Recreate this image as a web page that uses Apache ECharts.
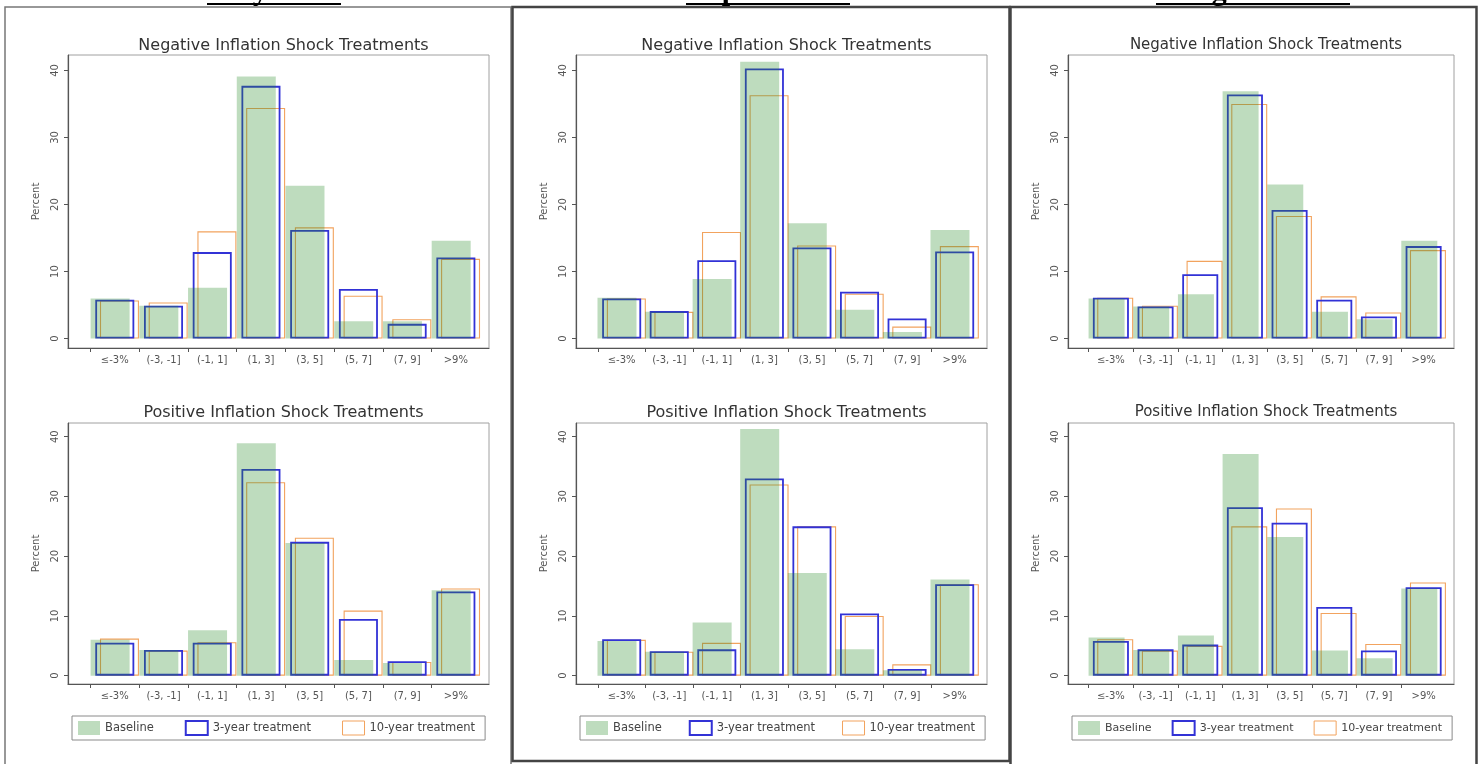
<!DOCTYPE html>
<html>
<head>
<meta charset="utf-8">
<title>Inflation expectations by treatment</title>
<script src="https://cdn.jsdelivr.net/npm/echarts@6/dist/echarts.min.js"></script>
<style>
html, body { margin: 0; padding: 0; background: #fff; }
#main { width: 1481px; height: 764px; }
</style>
</head>
<body>
<div id="main"></div>
<script>
// categories and labels
var categories = ['≤-3%', '(-3, -1]', '(-1, 1]', '(1, 3]', '(3, 5]', '(5, 7]', '(7, 9]', '>9%'];
var surveyTitles = ['July 2019', 'April 2021', 'August 2021'];
var chartTitles = ['Negative Inflation Shock Treatments', 'Positive Inflation Shock Treatments'];
var seriesNames = ['Baseline', '3-year treatment', '10-year treatment'];
var yTicks = [0, 10, 20, 30, 40];

// July 2019 (percent)
var jul19NegBaseline = [6.0, 4.9, 7.6, 39.1, 22.8, 2.6, 2.6, 14.6];
var jul19Neg3yr      = [5.8, 4.9, 12.9, 37.7, 16.2, 7.4, 2.2, 12.1];
var jul19Neg10yr     = [5.7, 5.4, 16.0, 34.4, 16.6, 6.4, 2.9, 11.9];
var jul19PosBaseline = [6.0, 4.3, 7.6, 38.9, 22.2, 2.6, 2.1, 14.3];
var jul19Pos3yr      = [5.5, 4.3, 5.5, 34.6, 22.4, 9.5, 2.4, 14.1];
var jul19Pos10yr     = [6.2, 4.2, 5.6, 32.4, 23.1, 10.9, 2.3, 14.6];

// April 2021
var apr21NegBaseline = [6.1, 4.0, 8.9, 41.3, 17.2, 4.3, 1.0, 16.2];
var apr21Neg3yr      = [6.0, 4.1, 11.7, 40.3, 13.6, 7.0, 3.0, 13.0];
var apr21Neg10yr     = [6.0, 4.0, 15.9, 36.3, 13.9, 6.7, 1.8, 13.8];
var apr21PosBaseline = [5.8, 4.0, 8.9, 41.3, 17.2, 4.4, 0.9, 16.1];
var apr21Pos3yr      = [6.1, 4.1, 4.4, 33.0, 25.0, 10.4, 1.1, 15.3];
var apr21Pos10yr     = [6.0, 4.0, 5.5, 32.0, 25.0, 10.0, 1.9, 15.3];

// August 2021
var aug21NegBaseline = [6.0, 4.8, 6.6, 36.9, 23.0, 4.0, 2.9, 14.6];
var aug21Neg3yr      = [6.1, 4.8, 9.6, 36.4, 19.2, 5.8, 3.3, 13.8];
var aug21Neg10yr     = [6.1, 4.9, 11.6, 35.0, 18.3, 6.3, 3.9, 13.2];
var aug21PosBaseline = [6.4, 4.3, 6.7, 37.1, 23.2, 4.2, 2.9, 14.6];
var aug21Pos3yr      = [5.8, 4.4, 5.2, 28.2, 25.6, 11.5, 4.2, 14.8];
var aug21Pos10yr     = [6.1, 4.2, 5.0, 25.0, 28.0, 10.5, 5.3, 15.6];

var panelData = [
    [[jul19NegBaseline, jul19Neg3yr, jul19Neg10yr], [jul19PosBaseline, jul19Pos3yr, jul19Pos10yr]],
    [[apr21NegBaseline, apr21Neg3yr, apr21Neg10yr], [apr21PosBaseline, apr21Pos3yr, apr21Pos10yr]],
    [[aug21NegBaseline, aug21Neg3yr, aug21Neg10yr], [aug21PosBaseline, aug21Pos3yr, aug21Pos10yr]]
];

var FONT = 'DejaVu Sans';
var BASE_FILL = 'rgba(40,140,40,0.3)';
var BLUE = '#3232d6';
var ORANGE = '#f2a35e';
var AXIS_GREY = '#555';

// layout of the three panels
var panelLeft = [68, 576, 1068];
var panelWidth = [421, 411, 386];
var rowTop = [55, 423];
var rowHeight = [293, 261];
var titleSize = [16, 16, 15];
var legendGap = [31, 27, 20];
var legendFont = [11.5, 11.5, 11];
var X_MIN = 0.04, X_MAX = 8.68;

var xTickValues = categories.map(function (c, i) { return i + 0.5; });
var xLabelValues = categories.map(function (c, i) { return i + 1; });

function toPoints(values) {
    return values.map(function (v, i) { return [i + 1, v]; });
}

var grids = [], xAxes = [], yAxes = [], series = [], titles = [], legends = [];

for (var p = 0; p < 3; p++) {
    var bw = Math.round(panelWidth[p] / (X_MAX - X_MIN) * 0.81);
    for (var r = 0; r < 2; r++) {
        var g = p * 2 + r;
        grids.push({
            left: panelLeft[p], top: rowTop[r], width: panelWidth[p], height: rowHeight[r],
            show: true, borderColor: '#a0a0a0', borderWidth: 1, backgroundColor: '#fff'
        });
        xAxes.push({
            gridIndex: g, type: 'value', min: X_MIN, max: X_MAX,
            axisLine: { onZero: false, lineStyle: { color: AXIS_GREY, width: 1.2 } },
            axisTick: { show: true, customValues: xTickValues, length: 4, lineStyle: { color: AXIS_GREY } },
            axisLabel: {
                customValues: xLabelValues, margin: 7, fontSize: 10, color: '#555', fontFamily: FONT,
                formatter: function (v) { return categories[Math.round(v) - 1]; }
            },
            splitLine: { show: false }
        });
        yAxes.push({
            gridIndex: g, type: 'value', min: -1.4, max: 42.3,
            name: 'Percent', nameLocation: 'middle', nameGap: 27,
            nameTextStyle: { fontSize: 10, color: '#555', fontFamily: FONT },
            axisLine: { show: true, onZero: false, lineStyle: { color: AXIS_GREY, width: 1.2 } },
            axisTick: { show: true, customValues: yTicks, length: 4, lineStyle: { color: AXIS_GREY } },
            axisLabel: { customValues: yTicks, rotate: 90, margin: 8, fontSize: 10, color: '#555', fontFamily: FONT },
            splitLine: { show: false }
        });
        titles.push({
            text: chartTitles[r],
            left: panelLeft[p] + panelWidth[p] / 2,
            top: r === 0 ? 33 : 400,
            textAlign: 'center',
            textStyle: { fontSize: titleSize[p], fontWeight: 'normal', color: '#333', fontFamily: FONT }
        });

        var vals = panelData[p][r];
        series.push({
            type: 'bar', name: seriesNames[0], xAxisIndex: g, yAxisIndex: g,
            data: toPoints(vals[0]), barWidth: bw, barGap: '-88%', z: 4,
            itemStyle: { color: BASE_FILL, borderWidth: 0 },
            emphasis: { disabled: true }
        });
        series.push({
            type: 'bar', name: seriesNames[1], xAxisIndex: g, yAxisIndex: g,
            data: toPoints(vals[1]), barWidth: bw, barGap: '-88%', z: 3,
            itemStyle: { color: 'rgba(0,0,0,0)', borderColor: BLUE, borderWidth: 1.8 },
            emphasis: { disabled: true }
        });
        series.push({
            type: 'bar', name: seriesNames[2], xAxisIndex: g, yAxisIndex: g,
            data: toPoints(vals[2]), barWidth: bw, barGap: '-88%', z: 2,
            itemStyle: { color: 'rgba(0,0,0,0)', borderColor: ORANGE, borderWidth: 1.1 },
            emphasis: { disabled: true }
        });
    }
    legends.push({
        left: panelLeft[p] + 4, top: 716, orient: 'horizontal', selectedMode: false,
        icon: 'rect', itemWidth: 22, itemHeight: 14, itemGap: legendGap[p],
        padding: [4, 10, 4, 6], borderColor: '#8a8a8a', borderWidth: 1,
        textStyle: { fontSize: legendFont[p], color: '#444', fontFamily: FONT },
        data: [
            { name: seriesNames[0], itemStyle: { color: BASE_FILL, borderWidth: 0 } },
            { name: seriesNames[1], itemStyle: { color: '#fff', borderColor: BLUE, borderWidth: 2 } },
            { name: seriesNames[2], itemStyle: { color: '#fff', borderColor: ORANGE, borderWidth: 1 } }
        ]
    });
}

// panel frames and the (cropped) survey headings
var headerX = [274, 768, 1253];
var graphics = [
    { type: 'rect', shape: { x: 5, y: 7, width: 506, height: 762 }, style: { fill: null, stroke: '#777', lineWidth: 1.5 } },
    { type: 'rect', shape: { x: 512.5, y: 7, width: 497, height: 754 }, style: { fill: null, stroke: '#444', lineWidth: 2.5 } },
    { type: 'rect', shape: { x: 1010.5, y: 7, width: 466, height: 762 }, style: { fill: null, stroke: '#444', lineWidth: 2.5 } }
];
surveyTitles.forEach(function (t, i) {
    graphics.push({
        type: 'text', x: headerX[i], y: -8,
        style: { text: t, fill: '#000', font: 'bold 30px "Liberation Serif"', align: 'center', verticalAlign: 'middle' }
    });
    graphics.push({
        type: 'line', shape: { x1: headerX[i] - 67 - i * 15, y1: 4, x2: headerX[i] + 67 + i * 15, y2: 4 },
        style: { stroke: '#000', lineWidth: 2 }
    });
});

var chart = echarts.init(document.getElementById('main'));
var option = {
    animation: false,
    backgroundColor: '#fff',
    title: titles,
    legend: legends,
    grid: grids,
    xAxis: xAxes,
    yAxis: yAxes,
    series: series,
    graphic: graphics
};
chart.setOption(option);
</script>
</body>
</html>
